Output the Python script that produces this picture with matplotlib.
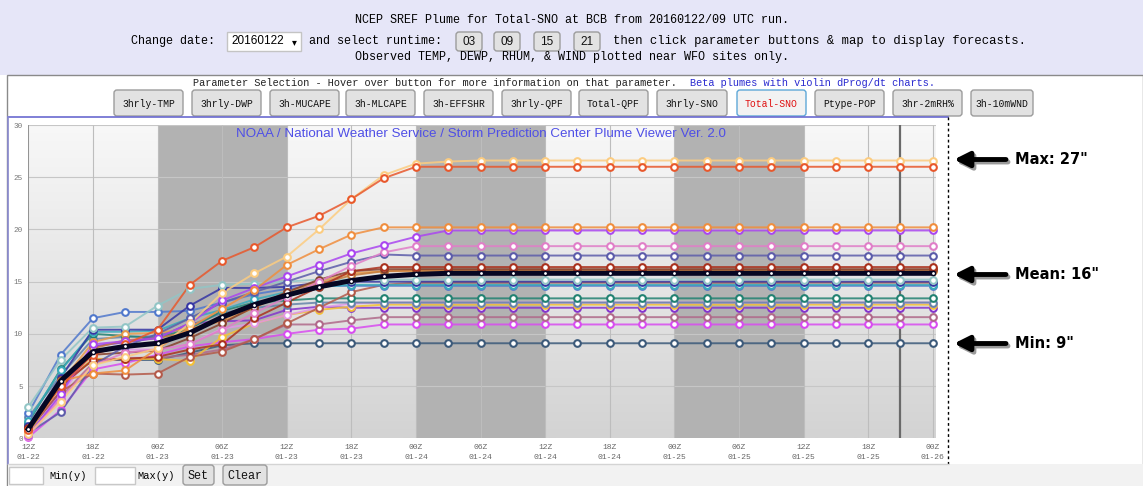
import numpy as np
import matplotlib
matplotlib.use("Agg")
import matplotlib.pyplot as plt
from matplotlib.patches import Rectangle, FancyBboxPatch
from matplotlib.colors import LinearSegmentedColormap

W, H = 1143, 486

# =========================================================
# DATA  (Total snow, inches, every 3 h from 12Z 01-22)
# =========================================================

hours = list(range(0, 85, 3))
tick_hours = list(range(0, 85, 6))
tick_labels = ["12Z\n01-22", "18Z\n01-22", "00Z\n01-23", "06Z\n01-23", "12Z\n01-23",
               "18Z\n01-23", "00Z\n01-24", "06Z\n01-24", "12Z\n01-24", "18Z\n01-24",
               "00Z\n01-25", "06Z\n01-25", "12Z\n01-25", "18Z\n01-25", "00Z\n01-26"]
y_ticks = [0, 5, 10, 15, 20, 25, 30]
night_start = [12, 36, 60]
night_end = [24, 48, 72]
now_hour = 81

m_lorange = [0.4, 3.5, 7.0, 7.8, 8.6, 11.0, 13.9, 15.8, 17.4, 20.0, 22.9, 25.2, 26.3,
             26.5, 26.6, 26.6, 26.6, 26.6, 26.6, 26.6, 26.6, 26.6, 26.6, 26.6, 26.6, 26.6, 26.6, 26.6, 26.6]
m_ored = [0.8, 5.0, 8.0, 9.0, 10.4, 14.7, 17.0, 18.3, 20.2, 21.3, 22.9, 24.9, 26.0,
          26.0, 26.0, 26.0, 26.0, 26.0, 26.0, 26.0, 26.0, 26.0, 26.0, 26.0, 26.0, 26.0, 26.0, 26.0, 26.0]
m_orange = [0.6, 5.5, 6.2, 6.5, 8.6, 10.6, 12.4, 14.2, 16.6, 18.1, 19.5, 20.2, 20.2,
            20.2, 20.2, 20.2, 20.2, 20.2, 20.2, 20.2, 20.2, 20.2, 20.2, 20.2, 20.2, 20.2, 20.2, 20.2, 20.2]
m_violet = [0.3, 4.2, 9.0, 9.3, 9.6, 11.0, 13.2, 14.4, 15.5, 16.6, 17.7, 18.5, 19.3,
            19.9, 19.9, 19.9, 19.9, 19.9, 19.9, 19.9, 19.9, 19.9, 19.9, 19.9, 19.9, 19.9, 19.9, 19.9, 19.9]
m_pink = [0.2, 3.8, 7.0, 8.2, 8.5, 9.0, 10.4, 12.0, 13.5, 15.0, 16.5, 17.8, 18.4,
          18.4, 18.4, 18.4, 18.4, 18.4, 18.4, 18.4, 18.4, 18.4, 18.4, 18.4, 18.4, 18.4, 18.4, 18.4, 18.4]
m_slate = [0.5, 2.5, 7.0, 8.8, 10.0, 11.5, 13.0, 14.0, 15.0, 16.0, 16.9, 17.6, 17.5,
           17.5, 17.5, 17.5, 17.5, 17.5, 17.5, 17.5, 17.5, 17.5, 17.5, 17.5, 17.5, 17.5, 17.5, 17.5, 17.5]
m_darkred = [1.0, 5.0, 7.5, 7.6, 7.8, 8.5, 9.0, 11.5, 13.0, 14.5, 16.0, 16.4, 16.4,
             16.4, 16.4, 16.4, 16.4, 16.4, 16.4, 16.4, 16.4, 16.4, 16.4, 16.4, 16.4, 16.4, 16.4, 16.4, 16.4]
m_brown = [0.7, 5.2, 8.6, 9.4, 9.6, 10.2, 11.5, 12.6, 13.8, 14.8, 15.6, 16.0, 16.1,
           16.1, 16.1, 16.1, 16.1, 16.1, 16.1, 16.1, 16.1, 16.1, 16.1, 16.1, 16.1, 16.1, 16.1, 16.1, 16.1]
m_orange2 = [0.5, 5.3, 9.2, 10.0, 10.1, 10.5, 11.2, 12.5, 14.0, 15.0, 15.8, 16.0, 16.0,
             16.0, 16.0, 16.0, 16.0, 16.0, 16.0, 16.0, 16.0, 16.0, 16.0, 16.0, 16.0, 16.0, 16.0, 16.0, 16.0]
m_lteal = [3.0, 7.5, 10.6, 10.7, 12.7, 14.3, 14.7, 14.8, 15.0, 15.2, 15.2, 15.2, 15.2,
           15.2, 15.2, 15.2, 15.2, 15.2, 15.2, 15.2, 15.2, 15.2, 15.2, 15.2, 15.2, 15.2, 15.2, 15.2, 15.2]
m_teal = [1.7, 6.5, 10.2, 10.2, 10.3, 11.5, 12.3, 13.3, 14.0, 14.5, 14.7, 14.7, 14.7,
          14.7, 14.7, 14.7, 14.7, 14.7, 14.7, 14.7, 14.7, 14.7, 14.7, 14.7, 14.7, 14.7, 14.7, 14.7, 14.7]
m_blue = [2.4, 8.0, 11.5, 12.1, 12.1, 12.2, 13.0, 13.8, 14.3, 14.6, 14.6, 14.6, 14.6,
          14.6, 14.6, 14.6, 14.6, 14.6, 14.6, 14.6, 14.6, 14.6, 14.6, 14.6, 14.6, 14.6, 14.6, 14.6, 14.6]
m_navy = [1.2, 5.8, 10.4, 10.4, 10.4, 12.7, 14.4, 14.4, 14.5, 14.9, 15.0, 15.0, 15.0,
          15.0, 15.0, 15.0, 15.0, 15.0, 15.0, 15.0, 15.0, 15.0, 15.0, 15.0, 15.0, 15.0, 15.0, 15.0, 15.0]
m_green = [1.5, 6.6, 10.0, 9.8, 9.6, 10.5, 12.2, 13.0, 13.2, 13.4, 13.4, 13.4, 13.4,
           13.4, 13.4, 13.4, 13.4, 13.4, 13.4, 13.4, 13.4, 13.4, 13.4, 13.4, 13.4, 13.4, 13.4, 13.4, 13.4]
m_gold = [0.5, 5.0, 7.6, 7.6, 7.6, 7.4, 9.7, 11.0, 11.8, 12.3, 12.6, 12.8, 12.8,
          12.8, 12.8, 12.8, 12.8, 12.8, 12.8, 12.8, 12.8, 12.8, 12.8, 12.8, 12.8, 12.8, 12.8, 12.8, 12.8]
m_purple = [0.8, 4.5, 8.8, 9.2, 9.6, 11.0, 11.2, 11.3, 12.3, 12.6, 12.5, 12.5, 12.5,
            12.5, 12.5, 12.5, 12.5, 12.5, 12.5, 12.5, 12.5, 12.5, 12.5, 12.5, 12.5, 12.5, 12.5, 12.5, 12.5]
m_mauve = [0.4, 4.0, 7.2, 7.7, 7.7, 8.0, 8.5, 9.5, 10.9, 10.9, 11.3, 11.6, 11.6,
           11.6, 11.6, 11.6, 11.6, 11.6, 11.6, 11.6, 11.6, 11.6, 11.6, 11.6, 11.6, 11.6, 11.6, 11.6, 11.6]
m_magenta = [0.1, 2.7, 6.6, 7.2, 8.0, 8.8, 9.2, 9.5, 10.0, 10.4, 10.5, 10.9, 10.9,
             10.9, 10.9, 10.9, 10.9, 10.9, 10.9, 10.9, 10.9, 10.9, 10.9, 10.9, 10.9, 10.9, 10.9, 10.9, 10.9]
m_dslate = [1.2, 5.2, 7.5, 7.5, 7.5, 8.2, 8.9, 9.1, 9.1, 9.1, 9.1, 9.1, 9.1,
            9.1, 9.1, 9.1, 9.1, 9.1, 9.1, 9.1, 9.1, 9.1, 9.1, 9.1, 9.1, 9.1, 9.1, 9.1, 9.1]
m_brownred = [0.7, 4.5, 6.2, 6.1, 6.2, 7.8, 8.3, 9.5, 11.0, 12.5, 14.0, 14.7, 14.9,
              14.9, 14.9, 14.9, 14.9, 14.9, 14.9, 14.9, 14.9, 14.9, 14.9, 14.9, 14.9, 14.9, 14.9, 14.9, 14.9]
m_lilac = [0.2, 4.0, 8.5, 8.5, 8.5, 9.0, 10.5, 11.0, 11.8, 12.5, 12.9, 13.0, 13.0,
           13.0, 13.0, 13.0, 13.0, 13.0, 13.0, 13.0, 13.0, 13.0, 13.0, 13.0, 13.0, 13.0, 13.0, 13.0, 13.0]
m_steel = [2.0, 6.0, 9.5, 9.7, 9.8, 10.8, 12.0, 12.5, 12.8, 13.0, 13.0, 13.0, 13.0,
           13.0, 13.0, 13.0, 13.0, 13.0, 13.0, 13.0, 13.0, 13.0, 13.0, 13.0, 13.0, 13.0, 13.0, 13.0, 13.0]
m_maroon = [0.9, 5.6, 8.0, 8.2, 8.4, 9.6, 11.0, 12.6, 14.0, 15.2, 16.0, 16.2, 16.2,
            16.2, 16.2, 16.2, 16.2, 16.2, 16.2, 16.2, 16.2, 16.2, 16.2, 16.2, 16.2, 16.2, 16.2, 16.2, 16.2]
m_mean = [0.9, 5.5, 8.3, 8.8, 9.1, 10.1, 11.6, 12.8, 13.7, 14.5, 15.1, 15.5, 15.7,
          15.8, 15.8, 15.8, 15.8, 15.8, 15.8, 15.8, 15.8, 15.8, 15.8, 15.8, 15.8, 15.8, 15.8, 15.8, 15.8]

members = [
    (m_dslate, "#3c5a7a"), (m_magenta, "#d84cf0"), (m_mauve, "#b06a8a"),
    (m_purple, "#8434cc"), (m_gold, "#f4c034"), (m_lilac, "#e096e8"),
    (m_steel, "#6484aa"), (m_green, "#228272"), (m_brownred, "#b45a4a"),
    (m_blue, "#5078cc"), (m_teal, "#38aabb"), (m_navy, "#3636a4"),
    (m_lteal, "#92c6c6"), (m_orange2, "#e89a4a"), (m_brown, "#c47a3a"),
    (m_maroon, "#86402c"), (m_darkred, "#aa321e"), (m_slate, "#5c5caa"),
    (m_pink, "#e07ec8"), (m_violet, "#aa46f0"), (m_orange, "#f08e3e"),
    (m_lorange, "#fccc80"), (m_ored, "#e8582c"),
]
for vals, _ in members:
    assert len(vals) == len(hours)

buttons = ["3hrly-TMP", "3hrly-DWP", "3h-MUCAPE", "3h-MLCAPE", "3h-EFFSHR", "3hrly-QPF",
           "Total-QPF", "3hrly-SNO", "Total-SNO", "Ptype-POP", "3hr-2mRH%", "3h-10mWND"]
button_x = [(114, 183), (192, 261), (270, 339), (346, 415), (424, 493), (502, 571),
            (579, 648), (657, 727), (737, 806), (815, 884), (893, 962), (971, 1033)]
runtimes = ["03", "09", "15", "21"]
runtime_x = [(456, 482), (494, 520), (534, 560), (574, 600)]

MONO = "Liberation Mono"
SANS = "Liberation Sans"


def btn(ax, x0, x1, y0, y1, label, size=7, fc="#e2e2e2", ec="#9c9c9c", tc="#111111",
        family=MONO):
    ax.add_patch(FancyBboxPatch((x0, y0), x1 - x0, y1 - y0,
                                boxstyle="round,pad=0,rounding_size=3",
                                fc=fc, ec=ec, lw=1, zorder=2))
    ax.text((x0 + x1) / 2, (y0 + y1) / 2 + 0.5, label, ha="center", va="center",
            fontsize=size, family=family, color=tc, zorder=3)


# =========================================================
# PAGE (pixel coordinates, origin top-left)
# =========================================================

fig = plt.figure(figsize=(W / 100, H / 100), dpi=100)
bg = fig.add_axes([0, 0, 1, 1])
bg.set_xlim(0, W)
bg.set_ylim(H, 0)
bg.axis("off")

bg.add_patch(Rectangle((0, 0), W, 75, fc="#e6e6f8", ec="none"))
bg.add_patch(Rectangle((7, 75), W - 7, H - 75, fc="white", ec="#8a8a8a", lw=1))
bg.add_patch(Rectangle((8, 464), W - 8, H - 464, fc="#f2f2f2", ec="none"))

bg.text(572, 20, "NCEP SREF Plume for Total-SNO at BCB from 20160122/09 UTC run.",
        ha="center", va="center", fontsize=8.5, family=MONO)
bg.text(131, 41, "Change date:", ha="left", va="center", fontsize=8.5, family=MONO)
bg.add_patch(Rectangle((227, 32), 74, 19, fc="white", ec="#c4c4c4", lw=1))
bg.text(231, 41.5, "20160122", ha="left", va="center", fontsize=8.5, family=SANS)
bg.text(294, 42, "\u25be", ha="center", va="center", fontsize=7, family="DejaVu Sans")
bg.text(309, 41, "and select runtime:", ha="left", va="center", fontsize=8.5, family=MONO)
for (x0, x1), r in zip(runtime_x, runtimes):
    btn(bg, x0, x1, 32, 51, r, size=8.5, family=SANS)
bg.text(613, 41, "then click parameter buttons & map to display forecasts.",
        ha="left", va="center", fontsize=8.8, family=MONO)
bg.text(572, 57, "Observed TEMP, DEWP, RHUM, & WIND plotted near WFO sites only.",
        ha="center", va="center", fontsize=8.5, family=MONO)

bg.text(193, 82.5, "Parameter Selection - Hover over button for more information on that parameter.",
        ha="left", va="center", fontsize=7.35, family=MONO, color="#222222")
bg.text(690, 82.5, "Beta plumes with violin dProg/dt charts.",
        ha="left", va="center", fontsize=7.35, family=MONO, color="#2a2ad0")
for (x0, x1), b in zip(button_x, buttons):
    if b == "Total-SNO":
        btn(bg, x0, x1, 90, 116, b, fc="#f2f2f2", ec="#5fa8d8", tc="#e01010")
    else:
        btn(bg, x0, x1, 90, 116, b)

# plot container borders
bg.plot([8, 948], [117, 117], color="#6a6ad0", lw=1.2)
bg.plot([8, 8], [117, 464], color="#8a8ad0", lw=1.2)
bg.plot([948, 948], [117, 464], color="black", lw=1, ls=(0, (2, 2)))
bg.plot([8, 948], [464, 464], color="#d4d4d4", lw=1)

# min / max inputs
bg.add_patch(Rectangle((9, 467), 34, 17, fc="white", ec="#c8c8c8", lw=1))
bg.text(49, 476, "Min(y)", ha="left", va="center", fontsize=7.5, family=MONO)
bg.add_patch(Rectangle((95, 467), 40, 17, fc="white", ec="#c8c8c8", lw=1))
bg.text(137, 476, "Max(y)", ha="left", va="center", fontsize=7.5, family=MONO)
btn(bg, 183, 214, 465, 485, "Set", size=8.5)
btn(bg, 223, 267, 465, 485, "Clear", size=8.5)

# annotation arrows
for y, label in [(159.5, 'Max: 27"'), (274.5, 'Mean: 16"'), (343.5, 'Min: 9"')]:
    bg.annotate("", xy=(956, y + 2.5), xytext=(1008, y + 2.5),
                arrowprops=dict(arrowstyle="-|>,head_length=0.9,head_width=0.45",
                                lw=3.5, color="#9a9a9a", shrinkA=0, shrinkB=0))
    bg.annotate("", xy=(954, y), xytext=(1006, y),
                arrowprops=dict(arrowstyle="-|>,head_length=0.9,head_width=0.45",
                                lw=3.5, color="black", shrinkA=0, shrinkB=0))
    bg.text(1015, y, label, ha="left", va="center", fontsize=10.5,
            family="DejaVu Sans", weight="bold")

# =========================================================
# PLUME AXES
# =========================================================

x0p, x1p, ytp, ybp = 28.3, 936.0, 125.0, 438.3
ax = fig.add_axes([x0p / W, 1 - ybp / H, (x1p - x0p) / W, (ybp - ytp) / H])
xmax = 84.3
ax.set_xlim(0, xmax)
ax.set_ylim(0, 30)

grad = np.linspace(0, 1, 256).reshape(-1, 1)
cmap = LinearSegmentedColormap.from_list("bg", ["#f8f8f8", "#d3d3d3"])
ax.imshow(grad, extent=[0, xmax, 0, 30], aspect="auto", cmap=cmap, zorder=0)
for s, e in zip(night_start, night_end):
    ax.axvspan(s, e, color="#b2b2b2", lw=0, zorder=0.5)

ax.hlines([5, 10, 15, 20, 25, 30], 0, xmax, color="#c6c6c6", lw=0.8, zorder=1)
ax.vlines(tick_hours, 0, 30, color="#bdbdbd", lw=0.8, zorder=1)
ax.vlines([0], 0, 30, color="#8c8c8c", lw=1.2, zorder=1)
ax.axvline(now_hour, color="#6a6a6a", lw=1.6, zorder=1.5)

for vals, col in members:
    ax.plot(hours, vals, color=col, lw=1.4, alpha=0.85, zorder=3, clip_on=False)
    ax.plot(hours, vals, ls="none", marker="o", ms=4.8, mfc="white", mec=col, mew=1.5,
            zorder=3.2, clip_on=False)

ax.plot(hours, m_mean, color="#060622", lw=3.6, zorder=5, clip_on=False)
ax.plot(hours, m_mean, ls="none", marker="o", ms=3.0, mfc="white", mec="#060622", mew=1.0,
        zorder=5.2, clip_on=False)

for sp in ax.spines.values():
    sp.set_visible(False)
ax.set_xticks(tick_hours)
ax.set_xticklabels(tick_labels, family=MONO, fontsize=5.8, color="#666666", linespacing=1.6)
ax.set_yticks(y_ticks)
ax.set_yticklabels([str(v) for v in y_ticks], family=MONO, fontsize=5.5, color="#777777")
ax.tick_params(axis="x", length=0, pad=4)
ax.tick_params(axis="y", length=0, pad=4)

fig.text(480.5 / W, 1 - 134 / H,
         "NOAA / National Weather Service / Storm Prediction Center Plume Viewer Ver. 2.0",
         ha="center", va="center", fontsize=9.6, family=SANS, color="#4f4fe6")

fig.savefig("out.png", dpi=100)
